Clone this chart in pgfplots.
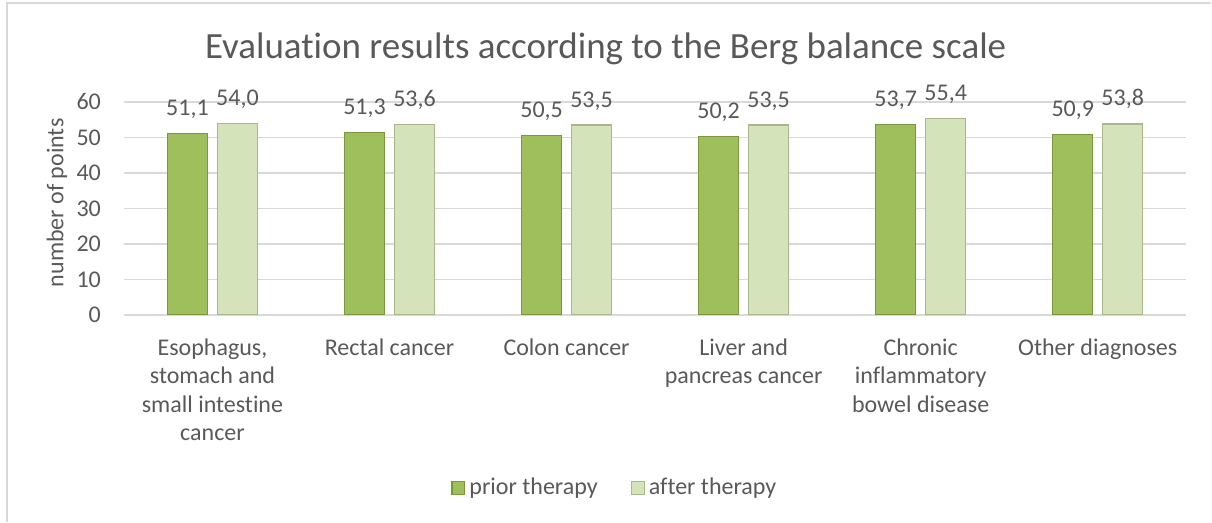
\documentclass[border=0pt]{standalone}
\usepackage{fontspec}
\setmainfont{Carlito}[Ligatures=NoCommon]
\usepackage{pgfplots}
\pgfplotsset{compat=1.18}
\definecolor{txt}{HTML}{595959}
\definecolor{gridc}{HTML}{D9D9D9}
\definecolor{prior}{HTML}{9EBF5C}
\definecolor{priordk}{HTML}{7A9740}
\definecolor{after}{HTML}{D5E3BA}
\definecolor{afterdk}{HTML}{A8B88B}
\newcommand{\lbl}{\fontsize{12}{14.25}\selectfont}

\begin{document}
\begin{tikzpicture}[font=\lbl, text=txt]
% picture frame, axis origin at (0,0)
\path (-62pt,-103.5pt) rectangle (544pt,157.5pt);
\draw[gridc, line width=0.75pt] (-58.5pt,-103.5pt) -- (-58.5pt,156pt) -- (544pt,156pt);
\node[font=\fontsize{18.5}{22}\selectfont, text=txt] at (241pt,133pt)
  {Evaluation results according to the Berg balance scale};
\begin{axis}[
  at={(0,0)}, anchor=south west,
  scale only axis, width=531.5pt, height=106.5pt,
  ybar=5pt, bar width=20pt,
  xmin=-0.5, xmax=5.5, ymin=0, ymax=60,
  xtick=data, ytick={0,10,...,60},
  xticklabels={{Esophagus,\\stomach and\\small intestine\\cancer},
               {Rectal cancer},
               {Colon cancer},
               {Liver and\\pancreas cancer},
               {Chronic\\inflammatory\\bowel disease},
               {Other diagnoses}},
  tick label style={font=\lbl, text=txt},
  xticklabel style={align=center, anchor=north, yshift=-8.5pt},
  yticklabel style={xshift=-8pt},
  major tick length=0pt,
  axis line style={draw=none},
  ymajorgrids, major grid style={gridc, line width=0.75pt},
  every axis y label/.style={at={(axis description cs:-0.063,0.526)}, rotate=90, anchor=center, font=\lbl, text=txt},
  ylabel={number of points},
  /pgf/number format/assume math mode=true,
  nodes near coords,
  nodes near coords style={/pgf/number format/fixed, /pgf/number format/fixed zerofill,
    /pgf/number format/precision=1, /pgf/number format/use comma,
    anchor=base, yshift=9pt, text=txt, font=\lbl},
  legend style={at={(axis description cs:0.463,-0.812)}, anchor=center, draw=none,
    legend columns=2, /tikz/every even column/.append style={column sep=14.5pt},
    font=\lbl, text=txt},
  legend image code/.code={\draw[#1] (0pt,-3.25pt) rectangle (6.5pt,3.25pt);},
]
\addplot[fill=prior, draw=priordk, line width=0.6pt]
  coordinates {(0,51.1) (1,51.3) (2,50.5) (3,50.2) (4,53.7) (5,50.9)};
\addplot[fill=after, draw=afterdk, line width=0.6pt]
  coordinates {(0,54.0) (1,53.6) (2,53.5) (3,53.5) (4,55.4) (5,53.8)};
\legend{prior therapy, after therapy}
\end{axis}
\end{tikzpicture}
\end{document}
